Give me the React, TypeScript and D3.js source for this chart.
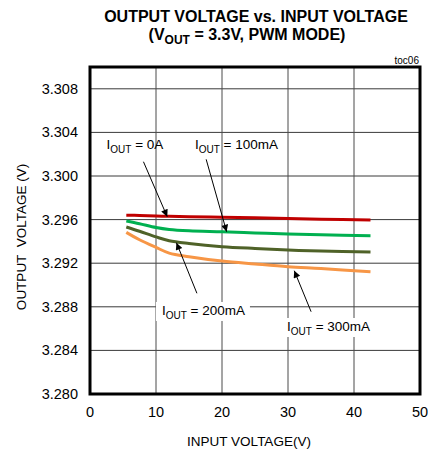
import * as d3 from "d3";

// input voltage (V) sample points
const vin = [5.5, 7.5, 10, 12, 15, 20, 25, 30, 35, 42.5];
// output voltage (V) per load current
const iout0 = [3.2964, 3.29638, 3.29633, 3.2963, 3.29627, 3.29621, 3.29616, 3.2961, 3.29604, 3.29596];
const iout100 = [3.29587, 3.29562, 3.29527, 3.29509, 3.29497, 3.29488, 3.29478, 3.29468, 3.29461, 3.29452];
const iout200 = [3.29532, 3.29493, 3.29441, 3.29406, 3.29381, 3.29352, 3.29335, 3.29321, 3.29312, 3.29303];
const iout300 = [3.29483, 3.29415, 3.29345, 3.29293, 3.2926, 3.2922, 3.29193, 3.29168, 3.29151, 3.29122];

const xTicks = [0, 10, 20, 30, 40, 50];
const yTicks = [3.28, 3.284, 3.288, 3.292, 3.296, 3.3, 3.304, 3.308];

const seriesNames = ["0A", "100mA", "200mA", "300mA"];
const seriesColors = ["#c00000", "#00b050", "#4f6228", "#f79646"];
const seriesValues = [iout0, iout100, iout200, iout300];

// annotation: label anchor, arrow start, arrow tip (data units)
const notes = [
  { text: "0A", lx: 2.5, ly: 3.30248, sx: 8.1, sy: 3.30131, tx: 11.7, ty: 3.29627, box: false },
  { text: "100mA", lx: 15.9, ly: 3.30248, sx: 17.6, sy: 3.30153, tx: 20.7, ty: 3.29489, box: false },
  { text: "200mA", lx: 10.9, ly: 3.28725, sx: 16.2, sy: 3.28924, tx: 13.1, ty: 3.29388, box: true },
  { text: "300mA", lx: 29.85, ly: 3.28578, sx: 33.5, sy: 3.28755, tx: 30.95, ty: 3.29131, box: true },
];

const W = 428;
const H = 454;
const font = "'Liberation Sans', Arial, sans-serif";

export default function App() {
  const left = 90, right = 420, top = 67, bottom = 394;
  const x = d3.scaleLinear().domain([0, 50]).range([left, right]);
  const y = d3.scaleLinear().domain([3.28, 3.31]).range([bottom, top]);

  const line = d3
    .line<number>()
    .x((_, i) => x(vin[i]))
    .y((d) => y(d))
    .curve(d3.curveCatmullRom.alpha(0.5));

  return (
    <svg width={W} height={H} style={{ position: "absolute", left: 0, top: 0, fontFamily: font }}>
      <defs>
        <marker id="arr" viewBox="0 0 10 10" refX="10" refY="5" markerWidth="12" markerHeight="7" markerUnits="userSpaceOnUse" orient="auto">
          <path d="M0,0 L10,5 L0,10 z" fill="#000" />
        </marker>
      </defs>

      <text x={256} y={22} textAnchor="middle" fontSize={16} fontWeight="bold">
        OUTPUT VOLTAGE vs. INPUT VOLTAGE
      </text>
      <text x={247} y={40} textAnchor="middle" fontSize={16} fontWeight="bold">
        (V<tspan fontSize={12} dy={4}>OUT</tspan>
        <tspan dy={-4}> = 3.3V, PWM MODE)</tspan>
      </text>
      <text x={419} y={64} textAnchor="end" fontSize={10}>toc06</text>

      {/* grid */}
      {yTicks.slice(1).map((t) => (
        <line key={"gy" + t} x1={left} x2={right} y1={y(t)} y2={y(t)} stroke="#3a3a3a" strokeWidth={1} />
      ))}
      {xTicks.slice(1, -1).map((t) => (
        <line key={"gx" + t} x1={x(t)} x2={x(t)} y1={top} y2={bottom} stroke="#4a4a4a" strokeWidth={1} />
      ))}

      {/* curves */}
      {seriesValues.map((vals, i) => (
        <path key={seriesNames[i]} d={line(vals) || ""} fill="none" stroke={seriesColors[i]} strokeWidth={3} />
      ))}

      {/* annotations */}
      {notes.map((n) => {
        const lx = x(n.lx);
        const ly = y(n.ly);
        const w = n.text.length > 2 ? 84 : 57;
        return (
          <g key={n.text}>
            {n.box && <rect x={lx - 6} y={ly - 13} width={w + 10} height={19} fill="#fff" />}
            <line x1={x(n.sx)} y1={y(n.sy)} x2={x(n.tx)} y2={y(n.ty)} stroke="#000" strokeWidth={1} markerEnd="url(#arr)" />
            <text x={lx} y={ly} fontSize={13.5}>
              I<tspan fontSize={10} dy={4}>OUT</tspan>
              <tspan dy={-4}> = {n.text}</tspan>
            </text>
          </g>
        );
      })}

      {/* frame */}
      <rect x={left} y={top} width={right - left} height={bottom - top} fill="none" stroke="#000" strokeWidth={3} />

      {/* ticks */}
      {yTicks.map((t) => (
        <text key={"ty" + t} x={78} y={y(t)} dy="0.35em" textAnchor="end" fontSize={14.5}>
          {d3.format(".3f")(t)}
        </text>
      ))}
      {xTicks.map((t) => (
        <text key={"tx" + t} x={x(t)} y={417} textAnchor="middle" fontSize={14.5}>
          {t}
        </text>
      ))}

      <text x={249} y={446} textAnchor="middle" fontSize={13.5}>INPUT VOLTAGE(V)</text>
      <text
        transform={`translate(26,237) rotate(-90)`}
        textAnchor="middle"
        fontSize={13.5}
        style={{ whiteSpace: "pre" }}
      >
        {"OUTPUT  VOLTAGE (V)"}
      </text>
    </svg>
  );
}
